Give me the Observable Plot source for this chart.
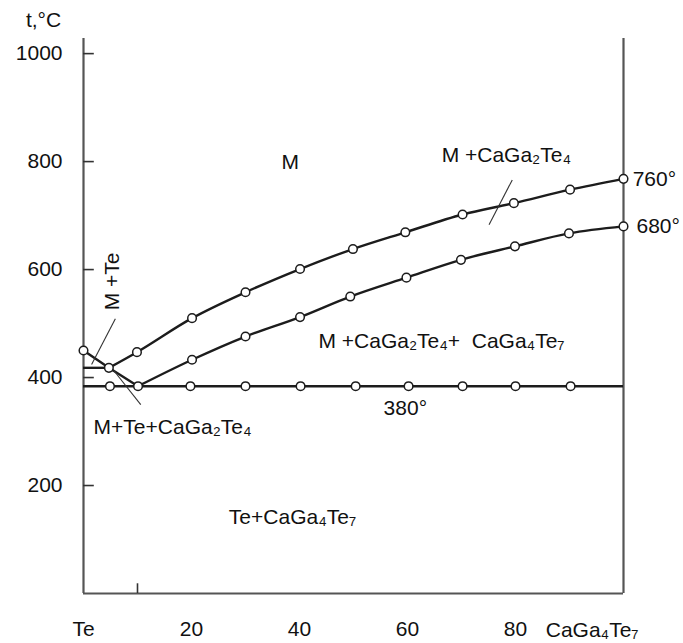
<!DOCTYPE html>
<html><head><meta charset="utf-8">
<script src="https://cdn.jsdelivr.net/npm/d3@7"></script>
<script src="https://cdn.jsdelivr.net/npm/@observablehq/plot@0.6"></script>
<style>body{margin:0;background:#fff}</style>
</head><body><div id="chart"></div>
<script>
// ---- data (x: mol % CaGa4Te7, y: t, °C) ----
const yTicks = [200, 400, 600, 800, 1000];
const xTicks = [0, 20, 40, 60, 80];
const xTickLabels = ["Te", "20", "40", "60", "80"];
const bottomTicks = [10];

const teLiquidusX = [0, 4.7, 10.1];
const teLiquidusT = [450, 418, 384];

const upperX = [4.7, 9.9, 20.1, 30, 40.1, 49.9, 59.6, 70.2, 79.7, 90.1, 100];
const upperT = [418, 447, 510, 558, 601, 638, 669, 702, 723, 748, 768];

const lowerX = [10.1, 20.1, 30, 40.1, 49.4, 59.8, 69.9, 79.9, 89.9, 100];
const lowerT = [384, 433, 476, 512, 550, 585, 618, 643, 667, 680];

const eutecticT = 384;
const eutecticPointsX = [4.9, 10.1, 19.8, 30, 40.2, 50.4, 60.2, 70.2, 80, 90.2];

const monotecticT = 418;
const monotecticX = [0, 4.7];

// leader lines (data units)
const leaders = [
  {x1: 5.9, y1: 509, x2: 1.5, y2: 424},
  {x1: 5.6, y1: 413, x2: 10.6, y2: 350},
  {x1: 79.4, y1: 766, x2: 75.1, y2: 683}
];

// region labels, centred (data units)
const centerLabels = [
  {x: 38.3, y: 798, text: "M"},
  {x: 78.3, y: 811, text: "M +CaGa₂Te₄"},
  {x: 66.3, y: 468, text: "M +CaGa₂Te₄+  CaGa₄Te₇"},
  {x: 59.6, y: 343, text: "380°"},
  {x: 16.5, y: 307, text: "M+Te+CaGa₂Te₄"},
  {x: 38.7, y: 141, text: "Te+CaGa₄Te₇"},
  {x: -7.4, y: 1061, text: "t,°C"}
];
// labels anchored at their start
const startLabels = [
  {x: 101.7, y: 768, text: "760°"},
  {x: 102.4, y: 681, text: "680°"},
  {x: 85.6, y: -68, text: "CaGa₄Te₇"}
];
// rotated label
const rotatedLabels = [
  {x: 5.4, y: 578, text: "M +Te"}
];

// ---- build tables ----
const zip = (xs, ys) => xs.map((x, i) => ({x, y: ys[i]}));
const teLiq = zip(teLiquidusX, teLiquidusT);
const upper = zip(upperX, upperT);
const lower = zip(lowerX, lowerT);
const eutPts = eutecticPointsX.map(x => ({x, y: eutecticT}));
const circles = [...teLiq.slice(0, 2), ...upper.slice(1), ...lower.slice(1), ...eutPts];

const FONT = "'Liberation Sans', Arial, sans-serif";
const INK = "#1c1c1c";
const AXIS = "#555";
const FS = 21;

const plot = Plot.plot({
  width: 683, height: 643,
  marginLeft: 83, marginRight: 60, marginTop: 38, marginBottom: 50,
  x: {domain: [0, 100]},
  y: {domain: [0, 1028]},
  style: {fontFamily: FONT, fontSize: FS + "px", color: "#111", background: "#fff", overflow: "visible"},
  marks: [
    Plot.ruleX([0, 100], {stroke: AXIS, strokeWidth: 2.2}),
    Plot.ruleY([0], {x1: 0, x2: 100, stroke: AXIS, strokeWidth: 2.2}),
    Plot.ruleY(yTicks, {x1: 0, x2: 2, stroke: "#333", strokeWidth: 1.6}),
    Plot.ruleX(bottomTicks, {y1: 0, y2: 18, stroke: "#333", strokeWidth: 1.6}),
    Plot.axisY({ticks: yTicks, tickSize: 0, tickPadding: 21, fontSize: FS, label: null,
      tickFormat: d => String(d)}),
    Plot.axisX({ticks: xTicks, tickSize: 0, tickPadding: 28, fontSize: FS, label: null,
      tickFormat: d => xTickLabels[xTicks.indexOf(d)]}),
    // phase lines
    Plot.ruleY([monotecticT], {x1: monotecticX[0], x2: monotecticX[1], stroke: INK, strokeWidth: 2.4}),
    Plot.ruleY([eutecticT], {x1: 0, x2: 100, stroke: INK, strokeWidth: 2.4}),
    Plot.line(teLiq, {x: "x", y: "y", stroke: INK, strokeWidth: 2.4}),
    Plot.line(upper, {x: "x", y: "y", stroke: INK, strokeWidth: 2.4, curve: "monotone-x"}),
    Plot.line(lower, {x: "x", y: "y", stroke: INK, strokeWidth: 2.4, curve: "monotone-x"}),
    // leaders
    Plot.link(leaders, {x1: "x1", y1: "y1", x2: "x2", y2: "y2", stroke: "#333", strokeWidth: 1.1}),
    // points
    Plot.dot(circles, {x: "x", y: "y", r: 4.3, fill: "white", stroke: INK, strokeWidth: 1.5}),
    // labels
    Plot.text(centerLabels, {x: "x", y: "y", text: "text", textAnchor: "middle", fontSize: FS, fill: "#111"}),
    Plot.text(startLabels, {x: "x", y: "y", text: "text", textAnchor: "start", fontSize: FS, fill: "#111"}),
    Plot.text(rotatedLabels, {x: "x", y: "y", text: "text", textAnchor: "middle", rotate: -90, fontSize: FS, fill: "#111"})
  ]
});
document.getElementById("chart").appendChild(plot);
</script>
</body></html>
